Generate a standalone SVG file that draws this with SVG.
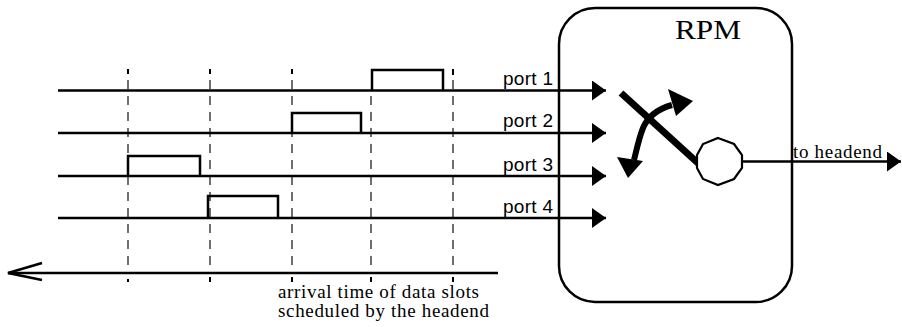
<svg xmlns="http://www.w3.org/2000/svg" width="902" height="327" viewBox="0 0 902 327">
  <style>
    .line { stroke: #000; stroke-width: 2.5; fill: none; }
    .pulse { stroke: #000; stroke-width: 2.5; fill: none; stroke-linejoin: miter; }
    .grid { stroke: #222; stroke-width: 1.3; stroke-dasharray: 9 7; fill: none; }
    .tick { stroke: #000; stroke-width: 2; }
    .port { font-family: "Liberation Sans", Arial, sans-serif; font-size: 19px; fill: #000; }
    .serif { font-family: "Liberation Serif", "Times New Roman", serif; fill: #000; }
    .head { fill: #000; }
  </style>
  <defs>
    <marker id="arrow" viewBox="0 0 14 20" refX="14" refY="10" markerWidth="14" markerHeight="20" markerUnits="userSpaceOnUse" orient="auto">
      <path d="M0,0 L14,10 L0,20 Z" fill="#000"/>
    </marker>
  </defs>

  <!-- slot boundaries (dashed) -->
  <g id="slot-grid">
    <line class="grid" x1="128" y1="80" x2="128" y2="270"/>
    <line class="grid" x1="210" y1="80" x2="210" y2="270"/>
    <line class="grid" x1="292" y1="80" x2="292" y2="270"/>
    <line class="grid" x1="371" y1="96" x2="371" y2="270"/>
    <line class="grid" x1="453" y1="80" x2="453" y2="270"/>
    <line class="tick" x1="128" y1="69" x2="128" y2="74"/>
    <line class="tick" x1="210" y1="69" x2="210" y2="74"/>
    <line class="tick" x1="292" y1="69" x2="292" y2="74"/>
    <line class="tick" x1="453" y1="69" x2="453" y2="75"/>
    <line class="tick" x1="128" y1="279" x2="128" y2="282"/>
    <line class="tick" x1="210" y1="277" x2="210" y2="282"/>
    <line class="tick" x1="292" y1="277" x2="292" y2="282"/>
    <line class="tick" x1="371" y1="277" x2="371" y2="282"/>
    <line class="tick" x1="453" y1="277" x2="453" y2="282"/>
  </g>

  <!-- port lines into the RPM -->
  <g id="connectors">
    <line class="line" x1="58" y1="90.5" x2="606" y2="90.5" marker-end="url(#arrow)"/>
    <line class="line" x1="58" y1="133" x2="606" y2="133" marker-end="url(#arrow)"/>
    <line class="line" x1="58" y1="176" x2="606" y2="176" marker-end="url(#arrow)"/>
    <line class="line" x1="58" y1="218" x2="606" y2="218" marker-end="url(#arrow)"/>
    <!-- output to headend -->
    <line class="line" x1="742" y1="161.5" x2="901" y2="161.5" stroke-width="2" marker-end="url(#arrow)"/>
    <!-- time axis -->
    <line class="line" x1="8" y1="273" x2="498" y2="273"/>
    <polyline class="line" points="42,263 8,273 42,280" stroke-width="2.4"/>
  </g>

  <!-- data slots -->
  <g id="port1">
    <polyline class="pulse" points="372,90.5 372,70 443,70 443,90.5"/>
    <text class="port" x="503" y="85" textLength="50" lengthAdjust="spacing">port 1</text>
  </g>
  <g id="port2">
    <polyline class="pulse" points="292,133 292,113 361,113 361,133"/>
    <text class="port" x="503" y="127" textLength="50" lengthAdjust="spacing">port 2</text>
  </g>
  <g id="port3">
    <polyline class="pulse" points="128,176 128,156 200,156 200,176"/>
    <text class="port" x="503" y="171" textLength="50" lengthAdjust="spacing">port 3</text>
  </g>
  <g id="port4">
    <polyline class="pulse" points="208,218 208,196 278,196 278,218"/>
    <text class="port" x="503" y="213" textLength="50" lengthAdjust="spacing">port 4</text>
  </g>

  <!-- remote packet multiplexer -->
  <g id="rpm">
    <rect x="559" y="8" width="233" height="294" rx="36" ry="36" class="line"/>
    <text class="serif" x="675" y="39" font-size="27" textLength="66" lengthAdjust="spacingAndGlyphs">RPM</text>
    <!-- switch arm -->
    <line x1="621" y1="93" x2="699" y2="164" stroke="#000" stroke-width="7"/>
    <!-- swing indicator -->
    <path d="M672,105 C658,109 648,116 643,128 C639,138 637,148 634,160" stroke="#000" stroke-width="6" fill="none"/>
    <polygon class="head" points="693,101 668,89 676,116"/>
    <polygon class="head" points="628,178 617,157 643,161"/>
    <!-- output node -->
    <polygon points="718,138 734,144 742,155 742,168 734,179 718,185 703,179 697,168 697,155 703,144" fill="#fff" stroke="#000" stroke-width="2.2"/>
  </g>

  <g id="labels">
    <text class="serif" x="793" y="158" font-size="19" textLength="89" lengthAdjust="spacing">to headend</text>
    <text class="serif" x="278" y="298" font-size="19" textLength="201" lengthAdjust="spacing">arrival time of data slots</text>
    <text class="serif" x="278" y="317" font-size="19" textLength="211" lengthAdjust="spacing">scheduled by the headend</text>
  </g>
</svg>
